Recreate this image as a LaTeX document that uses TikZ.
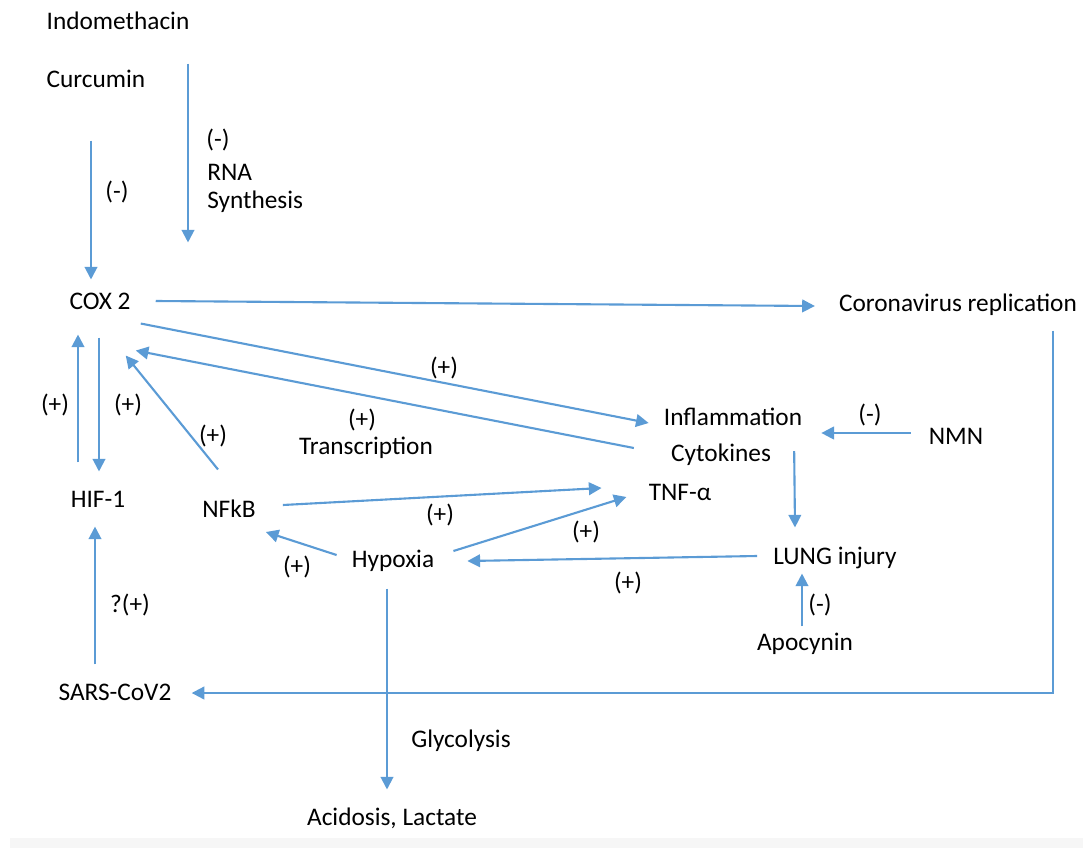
\documentclass[tikz,border=0pt]{standalone}
\usepackage{fontspec}
\setmainfont{Carlito}
\definecolor{cvBlue}{RGB}{91, 155, 213}
\definecolor{cvBand}{RGB}{246, 246, 246}
\usetikzlibrary{arrows.meta, calc}
\tikzset{
  term/.style={inner sep=0pt, text height=12pt, text depth=4pt, font=\fontsize{18}{20}\selectfont},
  sign/.style={term},
  twoline/.style={inner sep=0pt, align=left, font=\fontsize{18}{20}\selectfont},
  myarrow/.style={-{Triangle[length=9pt, width=9pt]}, line width=1.5pt, cvBlue},
  myline/.style={line width=1.5pt, cvBlue},
}
\begin{document}
\begin{tikzpicture}[x=0.025cm, y=-0.025cm]
  \useasboundingbox (0,0) rectangle (1083,848);
  \fill[cvBand] (10,838) rectangle (1083,848);
  % terms
  \node[term] (indo) at (118,24) {Indomethacin};
  \node[term] (curc) at (96,82) {Curcumin};
  \node[twoline, anchor=west] (rna) at (207,188) {RNA\\Synthesis};
  \node[term] (cox) at (100,304) {COX 2};
  \node[term] (corona) at (958,306) {Coronavirus replication};
  \node[term] (hif) at (98,502) {HIF-1};
  \node[term] (nfkb) at (229,512) {NFkB};
  \node[term] (transc) at (366,449) {Transcription};
  \node[term] (infl) at (733,420) {Inflammation};
  \node[term] (cyto) at (721,456) {Cytokines};
  \node[term] (nmn) at (956,439) {NMN};
  \node[term] (tnf) at (680,495) {TNF-α};
  \node[term] (hyp) at (393,562) {Hypoxia};
  \node[term] (lung) at (835,559) {LUNG injury};
  \node[term] (apo) at (805,645) {Apocynin};
  \node[term] (sars) at (115,695) {SARS-CoV2};
  \node[term] (glyc) at (461,742) {Glycolysis};
  \node[term] (acid) at (392,820) {Acidosis, Lactate};
  % signs
  \node[sign] (minusA) at (218,142) {(-)};
  \node[sign] (minusB) at (117,194) {(-)};
  \node[sign] (plusA) at (55,407) {(+)};
  \node[sign] (plusB) at (128,407) {(+)};
  \node[sign] (plusC) at (213,438) {(+)};
  \node[sign] (plusD) at (444,370) {(+)};
  \node[sign] (plusE) at (362,422) {(+)};
  \node[sign] (minusC) at (870,417) {(-)};
  \node[sign] (plusI) at (440,517) {(+)};
  \node[sign] (plusG) at (586,534) {(+)};
  \node[sign] (plusH) at (297,569) {(+)};
  \node[sign] (plusF) at (628,585) {(+)};
  \node[sign] (minusD) at (820,607) {(-)};
  \node[sign] (qplus) at (130,607) {?(+)};
  % arrows
  \draw[myarrow] ($(indo.south)+(70,28)$) -- ($(cox.north)+(88,-50)$);
  \draw[myarrow] ($(curc.south)+(-5,47)$) -- ($(cox.north)+(-9,-13)$);
  \draw[myarrow] ($(cox.east)+(25,-3)$) -- ($(corona.west)+(-24,0)$);
  \draw[myarrow] ($(corona.south)+(95,13)$) |- ($(sars.east)+(20,-2)$);
  \draw[myarrow] ($(sars.north)+(-20,-19)$) -- ($(hif.south)+(-3,13)$);
  \draw[myarrow] ($(hif.north)+(-20,-28)$) -- ($(cox.south)+(-22,19)$);
  \draw[myarrow] ($(cox.south)+(-1,22)$) -- ($(hif.north)+(1,-19)$);
  \draw[myarrow] ($(nfkb.north)+(-11,-31)$) -- ($(cox.south east)+(-5,40)$);
  \draw[myarrow] ($(cox.south east)+(10,8)$) -- ($(infl.west)+(-15,3)$);
  \draw[myarrow] ($(cyto.west)+(-37,-8)$) -- ($(cox.south east)+(5,35)$);
  \draw[myarrow] ($(nmn.west)+(-18,-6)$) -- ($(infl.east)+(19,13)$);
  \draw[myarrow] ($(cyto.east)+(23,-5)$) -- ($(lung.north)+(-40,-20)$);
  \draw[myarrow] ($(lung.west)+(-16,-3)$) -- ($(hyp.east)+(33,-1)$);
  \draw[myarrow] ($(apo.north)+(-3,-7)$) -- ($(lung.south)+(-33,3)$);
  \draw[myarrow] ($(hyp.east)+(19,-11)$) -- ($(tnf.west)+(-22,2)$);
  \draw[myarrow] ($(hyp.west)+(-15,-7)$) -- ($(nfkb.east)+(10,20)$);
  \draw[myarrow] ($(nfkb.east)+(27,-7)$) -- ($(tnf.west)+(-47,-7)$);
  \draw[myarrow] ($(hyp.south)+(-6,15)$) -- ($(acid.north)+(-5,-19)$);
\end{tikzpicture}
\end{document}
